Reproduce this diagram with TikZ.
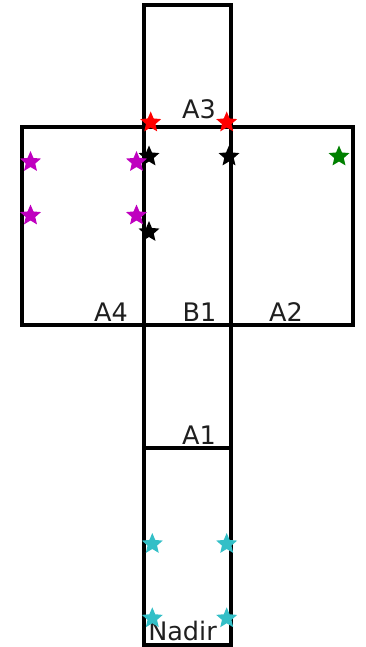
\documentclass[tikz,border=0pt]{standalone}
\usepackage{fontspec}
\setmainfont{DejaVu Sans}
\usetikzlibrary{shapes.geometric}

\definecolor{mplred}{rgb}{1,0,0}
\definecolor{mplmag}{rgb}{0.75,0,0.75}
\definecolor{mplgreen}{rgb}{0,0.5,0}
\definecolor{mplcyan}{rgb}{0.2,0.75,0.78}

\tikzset{
  facebox/.style={line width=3.2pt,line cap=rect},
  facelabel/.style={anchor=base,inner sep=0pt,font=\fontsize{25.5}{26}\selectfont,text=black!88},
  starmark/.style={star,star points=5,star point ratio=2.2,minimum size=22pt,inner sep=0pt,draw=none,fill=#1}
}

\begin{document}
\begin{tikzpicture}[x=1pt,y=-1pt]
  \useasboundingbox (0,0) rectangle (365,647);
  % faces
  \draw[facebox] (144,5) rectangle (231,645);
  \draw[facebox] (22,127) rectangle (353,325);
  \draw[facebox] (144,448) -- (231,448);
  % labels
  \node[facelabel] (a3) at (199,118.5) {A3};
  \node[facelabel] (a4) at (111,321) {A4};
  \node[facelabel] (b1) at (199.5,321) {B1};
  \node[facelabel] (a2) at (286,321) {A2};
  \node[facelabel] (a1) at (199,444.5) {A1};
  \node[facelabel] (nadir) at (182.5,640) {Nadir};
  % markers
  \node[starmark=mplred] (r1) at (150.7,122.5) {};
  \node[starmark=mplred] (r2) at (226.7,122.5) {};
  \node[starmark=black] (k1) at (149,156.5) {};
  \node[starmark=black] (k2) at (229,156.5) {};
  \node[starmark=black] (k3) at (149,232) {};
  \node[starmark=mplmag] (m1) at (30.5,162) {};
  \node[starmark=mplmag] (m2) at (136.5,162) {};
  \node[starmark=mplmag] (m3) at (30.5,215.5) {};
  \node[starmark=mplmag] (m4) at (136.5,215.5) {};
  \node[starmark=mplgreen] (g1) at (339,156.5) {};
  \node[starmark=mplcyan] (c1) at (152.3,544) {};
  \node[starmark=mplcyan] (c2) at (226.7,544) {};
  \node[starmark=mplcyan] (c3) at (152.3,618.3) {};
  \node[starmark=mplcyan] (c4) at (226.7,618.3) {};
\end{tikzpicture}
\end{document}
